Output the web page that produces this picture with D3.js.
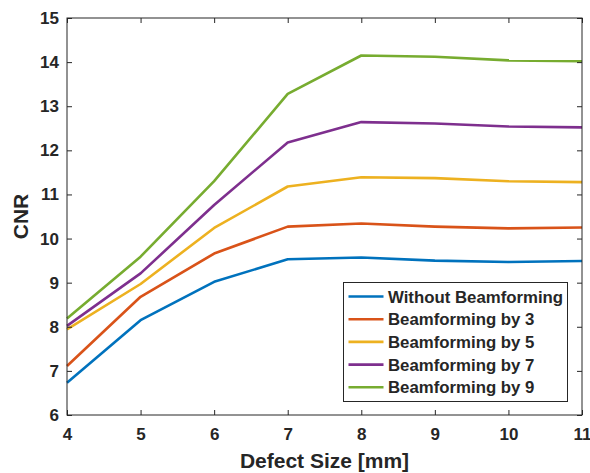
<!DOCTYPE html>
<html>
<head>
<meta charset="utf-8">
<script src="https://cdn.jsdelivr.net/npm/d3@7"></script>
<style>
  body { margin: 0; background: #fff; }
  text { font-family: "Liberation Sans", Arial, sans-serif; font-weight: bold; fill: #262626; }
</style>
</head>
<body>
<div id="chart"></div>
<script>
// defect sizes in mm
const sizes = [4, 5, 6, 7, 8, 9, 10, 11];

const seriesNames = ["Without Beamforming", "Beamforming by 3", "Beamforming by 5", "Beamforming by 7", "Beamforming by 9"];
const withoutBf = [6.73, 8.15, 9.02, 9.53, 9.57, 9.50, 9.47, 9.49];
const bf3 = [7.11, 8.68, 9.66, 10.27, 10.34, 10.27, 10.23, 10.25];
const bf5 = [7.94, 8.97, 10.24, 11.18, 11.39, 11.37, 11.30, 11.28];
const bf7 = [8.02, 9.21, 10.76, 12.18, 12.64, 12.61, 12.54, 12.52];
const bf9 = [8.19, 9.59, 11.30, 13.28, 14.15, 14.12, 14.04, 14.02];
const colors = ["#0072BD", "#D95319", "#EDB120", "#7E2F8E", "#77AC30"];

const xTicks = [4, 5, 6, 7, 8, 9, 10, 11];
const yTicks = [6, 7, 8, 9, 10, 11, 12, 13, 14, 15];

const allSeries = [withoutBf, bf3, bf5, bf7, bf9];

const W = 590, H = 473;
const margin = { top: 18, right: 8, bottom: 58, left: 67 };
const width = W - margin.left - margin.right;
const height = H - margin.top - margin.bottom;

const svg = d3.select("#chart").append("svg")
    .attr("width", W)
    .attr("height", H);

const chart = svg.append("g")
    .attr("transform", `translate(${margin.left},${margin.top})`);

const x = d3.scaleLinear().domain([4, 11]).range([0, width]);
const y = d3.scaleLinear().domain([6, 15]).range([height, 0]);

// lines
const line = d3.line()
    .x((d, i) => x(sizes[i]))
    .y(d => y(d));

allSeries.forEach((vals, k) => {
    chart.append("path")
        .datum(vals)
        .attr("fill", "none")
        .attr("stroke", colors[k])
        .attr("stroke-width", 2.6)
        .attr("stroke-linejoin", "round")
        .attr("d", line);
});

// axes, matlab style: ticks pointing in, mirrored on top/right
const tickLen = 5;
function styleAxis(g) {
    g.select(".domain").remove();
    g.selectAll(".tick line").attr("stroke", "#262626");
    g.selectAll(".tick text")
        .style("font-size", "17px")
        .style("font-family", "'Liberation Sans', Arial, sans-serif")
        .style("font-weight", "bold")
        .attr("fill", "#262626");
}

chart.append("g")
    .attr("transform", `translate(0,${height})`)
    .call(d3.axisBottom(x).tickValues(xTicks).tickFormat(d3.format("d")).tickSizeInner(-tickLen).tickPadding(13))
    .call(styleAxis);

chart.append("g")
    .call(d3.axisLeft(y).tickValues(yTicks).tickFormat(d3.format("d")).tickSizeInner(-tickLen).tickPadding(8))
    .call(styleAxis);

chart.append("g")
    .call(d3.axisTop(x).tickValues(xTicks).tickSizeInner(-tickLen).tickFormat(""))
    .call(styleAxis);

chart.append("g")
    .attr("transform", `translate(${width},0)`)
    .call(d3.axisRight(y).tickValues(yTicks).tickSizeInner(-tickLen).tickFormat(""))
    .call(styleAxis);

chart.append("rect")
    .attr("width", width)
    .attr("height", height)
    .attr("fill", "none")
    .attr("stroke", "#262626")
    .attr("stroke-width", 1);

// axis labels
svg.append("text")
    .attr("x", margin.left + width / 2)
    .attr("y", 468)
    .attr("text-anchor", "middle")
    .style("font-size", "21px")
    .text("Defect Size [mm]");

svg.append("text")
    .attr("transform", `translate(28,${margin.top + height / 2}) rotate(-90)`)
    .attr("text-anchor", "middle")
    .style("font-size", "21px")
    .text("CNR");

// legend
const legend = svg.append("g").attr("transform", "translate(343.5,282.5)");
legend.append("rect")
    .attr("width", 224)
    .attr("height", 119)
    .attr("fill", "#fff")
    .attr("stroke", "#262626")
    .attr("stroke-width", 1);

seriesNames.forEach((name, k) => {
    const cy = 14 + k * 22.7;
    legend.append("line")
        .attr("x1", 5).attr("x2", 40)
        .attr("y1", cy).attr("y2", cy)
        .attr("stroke", colors[k])
        .attr("stroke-width", 2.6);
    legend.append("text")
        .attr("x", 44.5)
        .attr("y", cy)
        .attr("dy", "0.36em")
        .style("font-size", "16.8px")
        .text(name);
});
</script>
</body>
</html>
